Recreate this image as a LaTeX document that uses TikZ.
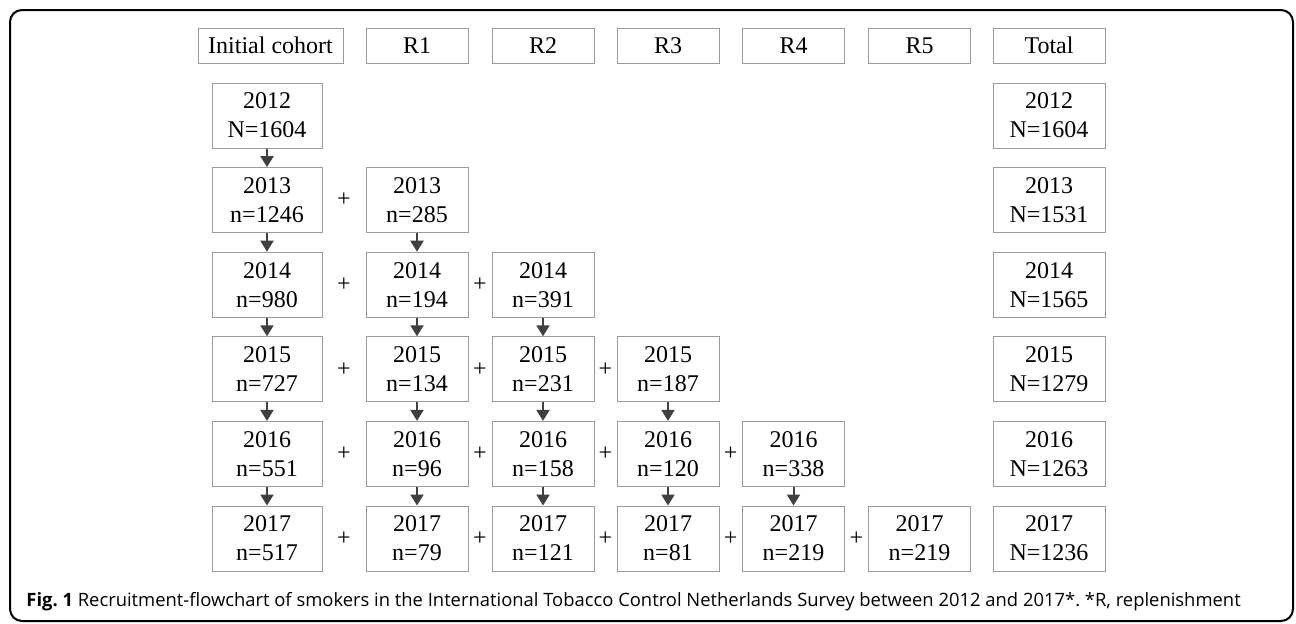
\documentclass[tikz,border=0pt]{standalone}
\usepackage{fontspec}
\setmainfont{Liberation Serif}
\newfontfamily\capfont{Open Sans}
\usetikzlibrary{calc}
\usetikzlibrary{arrows.meta}

\definecolor{boxgray}{HTML}{9A9A9A}
\definecolor{arrowgray}{HTML}{404040}

\tikzset{
  cell/.style={draw=boxgray, line width=0.5pt, align=center, inner sep=0pt,
    minimum width=51pt, minimum height=32.5pt, font=\fontsize{12}{14.5}\selectfont},
  headcell/.style={cell, minimum height=17.5pt},
  flow/.style={arrowgray, line width=1pt, -{Triangle[width=6.5pt,length=5.5pt]}},
  plus/.style={inner sep=0pt, font=\fontsize{12}{14.5}\selectfont},
}

\begin{document}
\begin{tikzpicture}[x=0.5pt,y=-0.5pt]
\useasboundingbox (0,0) rectangle (1296,623);
\draw[line width=1pt, rounded corners=6pt] (10,10) rectangle (1293,621);

% column headers
\node[headcell, minimum width=72.5pt] (hI) at (270.5,45.5) {Initial cohort};
\foreach \k/\x in {1/417,2/543,3/668,4/793.5,5/919.5}
  \node[headcell] (hR\k) at (\x,45.5) {R\k};
\node[headcell, minimum width=56pt] (hT) at (1049,45.5) {Total};

% initial cohort and total
\foreach \yr/\ni/\nt [count=\i from 0] in {2012/N=1604/1604, 2013/n=1246/1531, 2014/n=980/1565, 2015/n=727/1279, 2016/n=551/1263, 2017/n=517/1236} {
  \pgfmathsetmacro\yy{115.5+84.6*\i}
  \node[cell, minimum width=55pt] (I\yr) at (267,\yy) {\yr\\\ni};
  \node[cell, minimum width=56pt] (T\yr) at (1049,\yy) {\yr\\N=\nt};
}

% replenishment samples
\foreach \k/\x/\vals in {1/417/{285,194,134,96,79}, 2/543/{391,231,158,121}, 3/668/{187,120,81}, 4/793.5/{338,219}, 5/919.5/{219}} {
  \foreach \v [count=\j] in \vals {
    \pgfmathtruncatemacro\yr{2011+\k+\j}
    \pgfmathsetmacro\yy{115.5+84.6*(\yr-2012)}
    \node[cell] (R\k-\yr) at (\x,\yy) {\yr\\n=\v};
  }
}

% follow-up arrows
\foreach \yr [evaluate=\yr as \nx using int(\yr+1)] in {2012,...,2016}
  \draw[flow] (I\yr) -- (I\nx);
\foreach \k in {1,...,4} {
  \pgfmathtruncatemacro\s{2012+\k}
  \foreach \yr [evaluate=\yr as \nx using int(\yr+1)] in {\s,...,2016}
    \draw[flow] (R\k-\yr) -- (R\k-\nx);
}

% plus signs
\foreach \yr in {2013,...,2017}
  \node[plus] (pI-\yr) at ($(I\yr.east)!.5!(R1-\yr.west)$) {+};
\foreach \k in {1,...,4} {
  \pgfmathtruncatemacro\kk{\k+1}
  \pgfmathtruncatemacro\s{2012+\kk}
  \foreach \yr in {\s,...,2017}
    \node[plus] (p\k-\yr) at ($(R\k-\yr.east)!.5!(R\kk-\yr.west)$) {+};
}

\node[anchor=base west, inner sep=0pt, font=\capfont\fontsize{9.2}{11}\selectfont\frenchspacing] (cap) at (26,606)
  {\textbf{Fig. 1} Recruitment-flowchart of smokers in the International Tobacco Control Netherlands Survey between 2012 and 2017*. *R, replenishment};
\end{tikzpicture}
\end{document}
